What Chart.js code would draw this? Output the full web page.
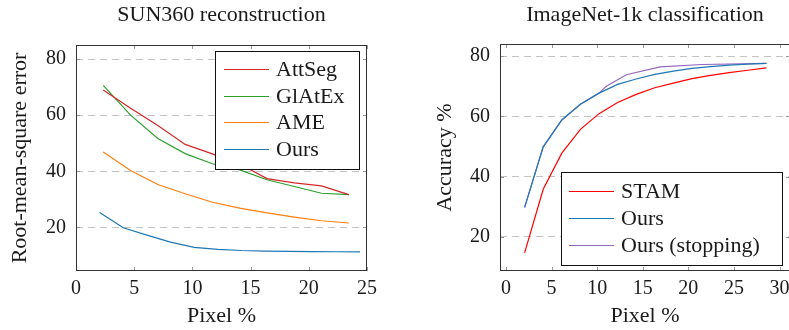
<!DOCTYPE html>
<html>
<head>
<meta charset="utf-8">
<script src="https://cdn.jsdelivr.net/npm/chart.js@4"></script>
<style>
  html, body { margin: 0; padding: 0; background: #fff; }
  body { width: 789px; height: 330px; overflow: hidden; position: relative; }
  canvas { position: absolute; top: 0; }
  #grafico-sun { left: 0; }
  #grafico-imagenet { left: 420px; }
</style>
</head>
<body>
<canvas id="grafico-sun" width="443" height="330"></canvas>
<canvas id="grafico-imagenet" width="450" height="330"></canvas>
<script>
/* ---------- dados: SUN360 ---------- */
const sunX       = [2.34, 4.69, 7.03, 9.38, 11.72, 14.06, 16.41, 18.75, 21.09, 23.44];
const attSeg     = [69.0, 62.5, 56.3, 49.6, 46.2, 42.6, 37.4, 35.9, 34.8, 31.7];
const glAtEx     = [70.6, 60.0, 51.7, 46.3, 42.7, 40.5, 37.0, 34.6, 32.2, 31.7];
const ame        = [46.9, 40.3, 35.3, 32.0, 29.0, 26.9, 25.2, 23.7, 22.4, 21.6];
const oursSunX   = [2.03, 4.06, 6.09, 8.12, 10.15, 12.18, 14.21, 16.24, 18.27, 20.3, 22.33, 24.4];
const oursSun    = [25.3, 19.9, 17.3, 14.8, 12.9, 12.2, 11.8, 11.6, 11.5, 11.4, 11.35, 11.3];
const sunYTicks  = [20, 40, 60, 80];
const sunXTicks  = [0, 5, 10, 15, 20, 25];

/* ---------- dados: ImageNet-1k ---------- */
const inX        = [2.04, 4.08, 6.12, 8.16, 10.2, 12.24, 14.28, 16.32, 18.36, 20.4, 22.44, 24.48, 26.52, 28.56];
const stam       = [14.7, 35.8, 47.8, 55.7, 60.9, 64.6, 67.3, 69.5, 71.0, 72.5, 73.6, 74.5, 75.3, 76.1];
const oursIn     = [29.8, 49.9, 58.8, 64.0, 67.7, 70.6, 72.4, 73.9, 75.0, 75.9, 76.5, 77.0, 77.3, 77.6];
const stopX      = [2.04, 4.08, 6.12, 8.16, 10.2, 11.0, 13.2, 16.9, 21.5, 28.56];
const stopY      = [29.8, 49.9, 58.8, 64.0, 67.7, 70.0, 73.8, 76.4, 77.2, 77.6];
const inYTicks   = [20, 40, 60, 80];
const inXTicks   = [0, 5, 10, 15, 20, 25, 30];

const FONTE = "'Liberation Serif', serif";
const COR_TEXTO = "#1a1a1a";
const TAM_TEXTO = 22;
const TAM_TICK = 20;

function pontos(xs, ys) {
    return xs.map((x, i) => ({ x, y: ys[i] }));
}

function serie(label, xs, ys, cor) {
    return {
        label,
        data: pontos(xs, ys),
        borderColor: cor,
        backgroundColor: cor,
        borderWidth: 1.2,
        pointRadius: 0,
        tension: 0,
        yAxisID: "y"
    };
}

/* moldura, ticks internos e legenda no estilo pgfplots */
const molduraPlugin = {
    id: "moldura",
    afterDatasetsDraw(chart, args, opts) {
        const { ctx, chartArea: a, scales: { x, y } } = chart;
        ctx.save();

        const linha = (x1, y1, x2, y2) => {
            ctx.beginPath();
            ctx.moveTo(x1, y1);
            ctx.lineTo(x2, y2);
            ctx.stroke();
        };

        ctx.strokeStyle = "#9a9a9a";
        ctx.lineWidth = 1;
        x.ticks.forEach(t => {
            const px = Math.round(x.getPixelForValue(t.value)) + 0.5;
            linha(px, a.bottom, px, a.bottom - 4);
            linha(px, a.top, px, a.top + 4);
        });
        y.ticks.forEach(t => {
            const py = Math.round(y.getPixelForValue(t.value)) + 0.5;
            linha(a.left, py, a.left + 4, py);
            linha(a.right, py, a.right - 4, py);
        });

        ctx.strokeStyle = "#333";
        ctx.strokeRect(Math.round(a.left) + 0.5, Math.round(a.top) + 0.5,
                       Math.round(a.width) - 1, Math.round(a.height) - 1);

        // legenda
        const L = opts.legenda;
        if (L) {
            ctx.fillStyle = "#fff";
            ctx.fillRect(L.x, L.y, L.w, L.h);
            ctx.strokeStyle = "#111";
            ctx.strokeRect(L.x + 0.5, L.y + 0.5, L.w, L.h);
            ctx.font = `${TAM_TEXTO}px ${FONTE}`;
            ctx.textBaseline = "middle";
            ctx.textAlign = "left";
            chart.data.datasets.forEach((ds, i) => {
                const cy = Math.round(L.linha0 + i * L.passo) + 0.5;
                ctx.strokeStyle = ds.borderColor;
                ctx.lineWidth = 1.2;
                linha(L.amostraX1, cy, L.amostraX2, cy);
                ctx.fillStyle = COR_TEXTO;
                ctx.fillText(ds.label, L.textoX, cy + 1);
            });
        }
        ctx.restore();
    }
};

function criarGrafico(id, cfg) {
    const ctx = document.getElementById(id).getContext("2d");
    return new Chart(ctx, {
        type: "line",
        data: { datasets: cfg.datasets },
        options: {
            responsive: false,
            animation: false,
            devicePixelRatio: 1,
            layout: { padding: 0 },
            plugins: {
                legend: { display: false },
                tooltip: { enabled: false },
                title: {
                    display: true,
                    text: cfg.titulo,
                    color: COR_TEXTO,
                    font: { family: FONTE, size: TAM_TEXTO, weight: "normal" },
                    padding: { top: 2, bottom: cfg.tituloPadBaixo }
                },
                moldura: { legenda: cfg.legenda }
            },
            scales: {
                x: {
                    type: "linear",
                    min: cfg.xMin,
                    max: cfg.xMax,
                    afterBuildTicks: s => { s.ticks = cfg.xTicks.map(v => ({ value: v })); },
                    afterFit: s => { s.height = 59; },
                    grid: { display: false, drawTicks: false },
                    border: { display: false },
                    ticks: {
                        color: COR_TEXTO,
                        padding: 6,
                        maxRotation: 0,
                        font: { family: FONTE, size: TAM_TICK }
                    },
                    title: {
                        display: true,
                        text: "Pixel %",
                        color: COR_TEXTO,
                        font: { family: FONTE, size: TAM_TEXTO },
                        padding: { top: 0, bottom: 1 }
                    }
                },
                y: {
                    position: "left",
                    min: cfg.yMin,
                    max: cfg.yMax,
                    afterBuildTicks: s => { s.ticks = cfg.yTicks.map(v => ({ value: v })); },
                    afterFit: s => { s.width = cfg.larguraY; },
                    grid: { color: "#c4c4c4", lineWidth: 1, drawTicks: false },
                    border: { display: false, dash: [7, 5] },
                    ticks: {
                        color: COR_TEXTO,
                        padding: 10,
                        font: { family: FONTE, size: TAM_TICK }
                    },
                    title: {
                        display: true,
                        text: cfg.tituloY,
                        color: COR_TEXTO,
                        font: { family: FONTE, size: TAM_TEXTO },
                        padding: { top: cfg.tituloYPad, bottom: 0 }
                    }
                },
                // eixo vazio à direita só para centralizar o título sobre a área do gráfico
                y2: {
                    position: "right",
                    afterFit: s => { s.width = cfg.larguraY; },
                    grid: { display: false, drawTicks: false },
                    border: { display: false },
                    ticks: { display: false }
                }
            }
        },
        plugins: [molduraPlugin]
    });
}

criarGrafico("grafico-sun", {
    titulo: "SUN360 reconstruction",
    tituloY: "Root-mean-square error",
    tituloYPad: 7,
    tituloPadBaixo: 16.6,
    larguraY: 76,
    xMin: 0, xMax: 25, xTicks: sunXTicks,
    yMin: 4.5, yMax: 85, yTicks: sunYTicks,
    datasets: [
        serie("AttSeg", sunX, attSeg, "#d62728"),
        serie("GlAtEx", sunX, glAtEx, "#2ca02c"),
        serie("AME", sunX, ame, "#ff7f0e"),
        serie("Ours", oursSunX, oursSun, "#1f77b4")
    ],
    legenda: { x: 215, y: 51, w: 144, h: 118, linha0: 69, passo: 26.7,
               amostraX1: 224, amostraX2: 269, textoX: 276 }
});

criarGrafico("grafico-imagenet", {
    titulo: "ImageNet-1k classification",
    tituloY: "Accuracy %",
    tituloYPad: 12,
    tituloPadBaixo: 15.6,
    larguraY: 80,
    xMin: -0.66, xMax: 31.15, xTicks: inXTicks,
    yMin: 8.7, yMax: 84, yTicks: inYTicks,
    datasets: [
        serie("STAM", inX, stam, "#ff0000"),
        serie("Ours", inX, oursIn, "#1f77b4"),
        serie("Ours (stopping)", stopX, stopY, "#9467bd")
    ],
    legenda: { x: 141, y: 172, w: 221, h: 93, linha0: 190.7, passo: 27.2,
               amostraX1: 149, amostraX2: 194, textoX: 201 }
});
</script>
</body>
</html>
